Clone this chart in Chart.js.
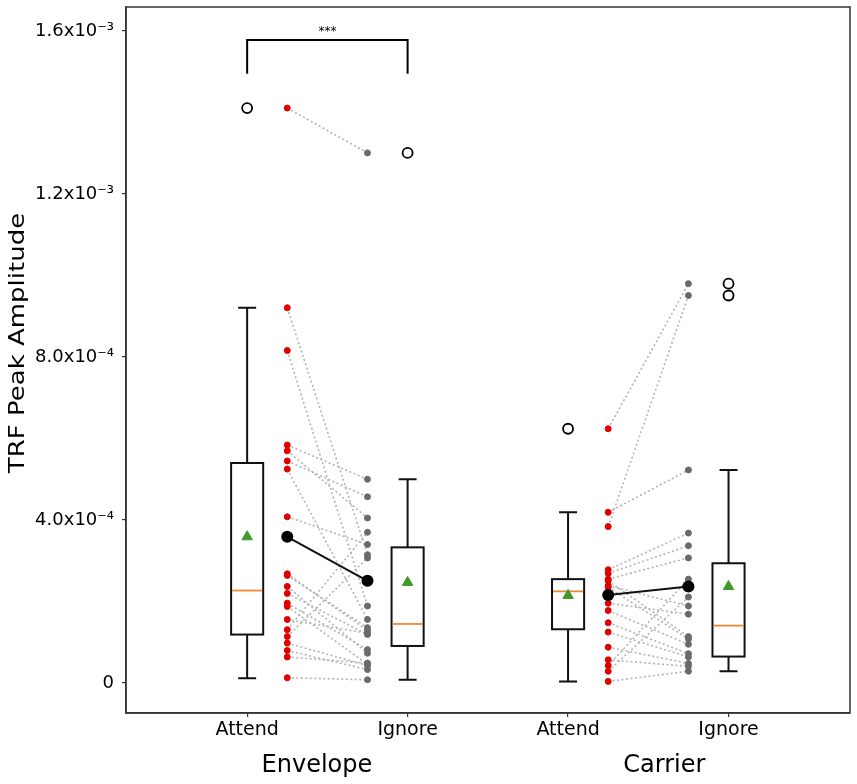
<!DOCTYPE html>
<html>
<head>
<meta charset="utf-8">
<script src="https://cdn.jsdelivr.net/npm/chart.js@4"></script>
<style>
  html, body { margin: 0; padding: 0; background: #fff; }
  #wrap { width: 857px; height: 784px; }
</style>
</head>
<body>
<div id="wrap"><canvas id="chart"></canvas></div>
<script>
const groupLabels = ["Envelope", "Carrier"];
const conditionLabels = ["Attend", "Ignore", "Attend", "Ignore"];
const yTickValues = [0, 4e-4, 8e-4, 1.2e-3, 1.6e-3];
const yTickLabels = ["0", "4.0x10⁻⁴", "8.0x10⁻⁴", "1.2x10⁻³", "1.6x10⁻³"];
const yTitle = "TRF Peak Amplitude";

// paired subjects, same order in attend / ignore
const envelopeAttend = [14.11e-4, 9.21e-4, 8.16e-4, 5.84e-4, 5.70e-4, 5.45e-4, 5.25e-4, 4.08e-4, 2.68e-4, 2.64e-4, 2.37e-4,
  2.20e-4, 1.96e-4, 1.88e-4, 1.56e-4, 1.31e-4, 1.14e-4, 0.98e-4, 0.80e-4, 0.64e-4, 0.13e-4];
const envelopeIgnore = [13.01e-4, 3.15e-4, 1.89e-4, 5.00e-4, 4.05e-4, 4.57e-4, 1.56e-4, 3.40e-4, 1.29e-4, 1.36e-4, 0.73e-4,
  1.19e-4, 0.82e-4, 0.46e-4, 1.22e-4, 3.70e-4, 3.07e-4, 0.43e-4, 0.33e-4, 0.49e-4, 0.08e-4];
const carrierAttend = [6.24e-4, 4.19e-4, 3.84e-4, 2.78e-4, 2.69e-4, 2.55e-4, 2.51e-4, 2.39e-4, 2.35e-4, 1.96e-4, 1.78e-4,
  1.48e-4, 1.25e-4, 0.88e-4, 0.57e-4, 0.43e-4, 0.29e-4, 0.04e-4];
const carrierIgnore = [9.80e-4, 5.23e-4, 9.51e-4, 3.68e-4, 3.37e-4, 3.07e-4, 1.14e-4, 1.89e-4, 1.08e-4, 1.69e-4, 0.95e-4,
  0.72e-4, 0.64e-4, 0.48e-4, 0.41e-4, 2.55e-4, 2.11e-4, 0.29e-4];

// box summaries for Envelope Attend, Envelope Ignore, Carrier Attend, Carrier Ignore
const boxLow = [0.12e-4, 0.08e-4, 0.04e-4, 0.29e-4];
const boxQ1 = [1.19e-4, 0.91e-4, 1.32e-4, 0.65e-4];
const boxMedian = [2.27e-4, 1.45e-4, 2.25e-4, 1.41e-4];
const boxQ3 = [5.40e-4, 3.33e-4, 2.55e-4, 2.94e-4];
const boxHigh = [9.21e-4, 5.00e-4, 4.19e-4, 5.23e-4];
const boxMean = [3.59e-4, 2.47e-4, 2.15e-4, 2.37e-4];
const boxOutliers = [[14.11e-4], [13.01e-4], [6.24e-4], [9.80e-4, 9.51e-4]];

const envelopeMeans = [3.59e-4, 2.51e-4];
const carrierMeans = [2.16e-4, 2.37e-4];

const sigBracket = [14.95e-4, 15.78e-4];
const sigLabel = "***";

const FONT = "'DejaVu Sans', sans-serif";
const DOT_SHIFT = 0.25;
const GROUP_LABEL_X = [1.435, 3.6];

const pairSets = [
  { pos: 1, attend: envelopeAttend, ignore: envelopeIgnore, means: envelopeMeans },
  { pos: 3, attend: carrierAttend, ignore: carrierIgnore, means: carrierMeans },
];

const datasets = [];

pairSets.forEach(g => {
  g.attend.forEach((a, i) => {
    datasets.push({
      type: "line",
      data: [{ x: g.pos + DOT_SHIFT, y: a }, { x: g.pos + 1 - DOT_SHIFT, y: g.ignore[i] }],
      borderColor: "#b4b4b4",
      borderWidth: 1.6,
      borderDash: [2, 2.5],
      pointRadius: 0,
      order: 20,
    });
  });
  datasets.push({
    type: "scatter",
    data: g.attend.map(v => ({ x: g.pos + DOT_SHIFT, y: v })),
    backgroundColor: "#e00000",
    borderColor: "#e00000",
    pointRadius: 3,
    order: 10,
  });
  datasets.push({
    type: "scatter",
    data: g.ignore.map(v => ({ x: g.pos + 1 - DOT_SHIFT, y: v })),
    backgroundColor: "#6a6a6a",
    borderColor: "#6a6a6a",
    pointRadius: 3,
    order: 10,
  });
  datasets.push({
    type: "line",
    data: [{ x: g.pos + DOT_SHIFT, y: g.means[0] }, { x: g.pos + 1 - DOT_SHIFT, y: g.means[1] }],
    borderColor: "#111",
    backgroundColor: "#000",
    borderWidth: 2,
    pointRadius: 6,
    pointBorderWidth: 0,
    order: 2,
  });
});

// outliers
datasets.push({
  type: "scatter",
  data: boxOutliers.flatMap((list, i) => list.map(v => ({ x: i + 1, y: v }))),
  backgroundColor: "#fff",
  borderColor: "#000",
  borderWidth: 1.8,
  pointRadius: 5,
  order: 4,
});

// means of each box
datasets.push({
  type: "scatter",
  data: boxMean.map((v, i) => ({ x: i + 1, y: v })),
  pointStyle: "triangle",
  backgroundColor: "#3f9a2a",
  borderColor: "#3f9a2a",
  pointRadius: 6,
  order: 3,
});

// significance bracket between Envelope Attend and Ignore
datasets.push({
  type: "line",
  data: [
    { x: 1, y: sigBracket[0] }, { x: 1, y: sigBracket[1] },
    { x: 2, y: sigBracket[1] }, { x: 2, y: sigBracket[0] },
  ],
  borderColor: "#000",
  borderWidth: 2,
  pointRadius: 0,
  order: 1,
});

const boxPlugin = {
  id: "boxes",
  beforeDatasetsDraw(chart) {
    const { ctx, scales: { x, y } } = chart;
    const halfBox = x.getPixelForValue(1.1) - x.getPixelForValue(1);
    const halfCap = x.getPixelForValue(1.056) - x.getPixelForValue(1);
    ctx.save();
    boxQ1.forEach((q1, i) => {
      const cx = x.getPixelForValue(i + 1);
      const yLow = y.getPixelForValue(boxLow[i]);
      const yQ1 = y.getPixelForValue(q1);
      const yMed = y.getPixelForValue(boxMedian[i]);
      const yQ3 = y.getPixelForValue(boxQ3[i]);
      const yHigh = y.getPixelForValue(boxHigh[i]);
      ctx.strokeStyle = "#111";
      ctx.lineWidth = 2;
      ctx.beginPath();
      ctx.moveTo(cx, yQ3); ctx.lineTo(cx, yHigh);
      ctx.moveTo(cx - halfCap, yHigh); ctx.lineTo(cx + halfCap, yHigh);
      ctx.moveTo(cx, yQ1); ctx.lineTo(cx, yLow);
      ctx.moveTo(cx - halfCap, yLow); ctx.lineTo(cx + halfCap, yLow);
      ctx.stroke();
      ctx.strokeRect(cx - halfBox, yQ3, halfBox * 2, yQ1 - yQ3);
      ctx.strokeStyle = "#f08a30";
      ctx.lineWidth = 1.8;
      ctx.beginPath();
      ctx.moveTo(cx - halfBox + 1, yMed); ctx.lineTo(cx + halfBox - 1, yMed);
      ctx.stroke();
    });
    ctx.restore();
  },
  afterDraw(chart) {
    const { ctx, chartArea: a, scales: { x, y } } = chart;
    ctx.save();
    ctx.strokeStyle = "#333";
    ctx.lineWidth = 1.5;
    ctx.strokeRect(a.left, a.top, a.right - a.left, a.bottom - a.top);
    ctx.fillStyle = "#000";
    ctx.textAlign = "center";
    ctx.textBaseline = "middle";
    ctx.font = "12px " + FONT;
    ctx.fillText(sigLabel, x.getPixelForValue(1.5), y.getPixelForValue(sigBracket[1]) - 8);
    ctx.font = "24px " + FONT;
    groupLabels.forEach((g, i) => {
      ctx.fillText(g, x.getPixelForValue(GROUP_LABEL_X[i]), 766);
    });
    ctx.translate(18, 343);
    ctx.rotate(-Math.PI / 2);
    ctx.scale(1, 0.85);
    ctx.font = "26px " + FONT;
    ctx.fillText(yTitle, 0, 0);
    ctx.restore();
  },
};

new Chart(document.getElementById("chart"), {
  type: "scatter",
  data: { datasets },
  plugins: [boxPlugin],
  options: {
    responsive: true,
    maintainAspectRatio: false,
    animation: false,
    layout: { padding: { top: 5, right: 6, left: 0, bottom: 0 } },
    plugins: { legend: { display: false }, tooltip: { enabled: false } },
    scales: {
      x: {
        type: "linear",
        min: 0.245,
        max: 4.757,
        afterBuildTicks: s => { s.ticks = conditionLabels.map((_, i) => ({ value: i + 1 })); },
        afterFit: s => { s.height = 71; s.paddingLeft = 0; s.paddingRight = 0; },
        ticks: {
          callback: v => conditionLabels[v - 1],
          color: "#000",
          font: { family: FONT, size: 19 },
          padding: 2,
          maxRotation: 0,
        },
        grid: { drawOnChartArea: false, tickLength: 4, color: "#333", lineWidth: 1.2 },
        border: { color: "#333", width: 1.5 },
      },
      y: {
        min: -0.735e-4,
        max: 16.59e-4,
        afterBuildTicks: s => { s.ticks = yTickValues.map(v => ({ value: v })); },
        afterFit: s => { s.width = 126; s.paddingTop = 0; s.paddingBottom = 0; },
        ticks: {
          callback: (v, i) => yTickLabels[i],
          color: "#000",
          font: { family: FONT, size: 18 },
          padding: 8,
        },
        grid: { drawOnChartArea: false, tickLength: 4, color: "#333", lineWidth: 1.2 },
        border: { color: "#333", width: 1.5 },
      },
    },
  },
});
</script>
</body>
</html>
